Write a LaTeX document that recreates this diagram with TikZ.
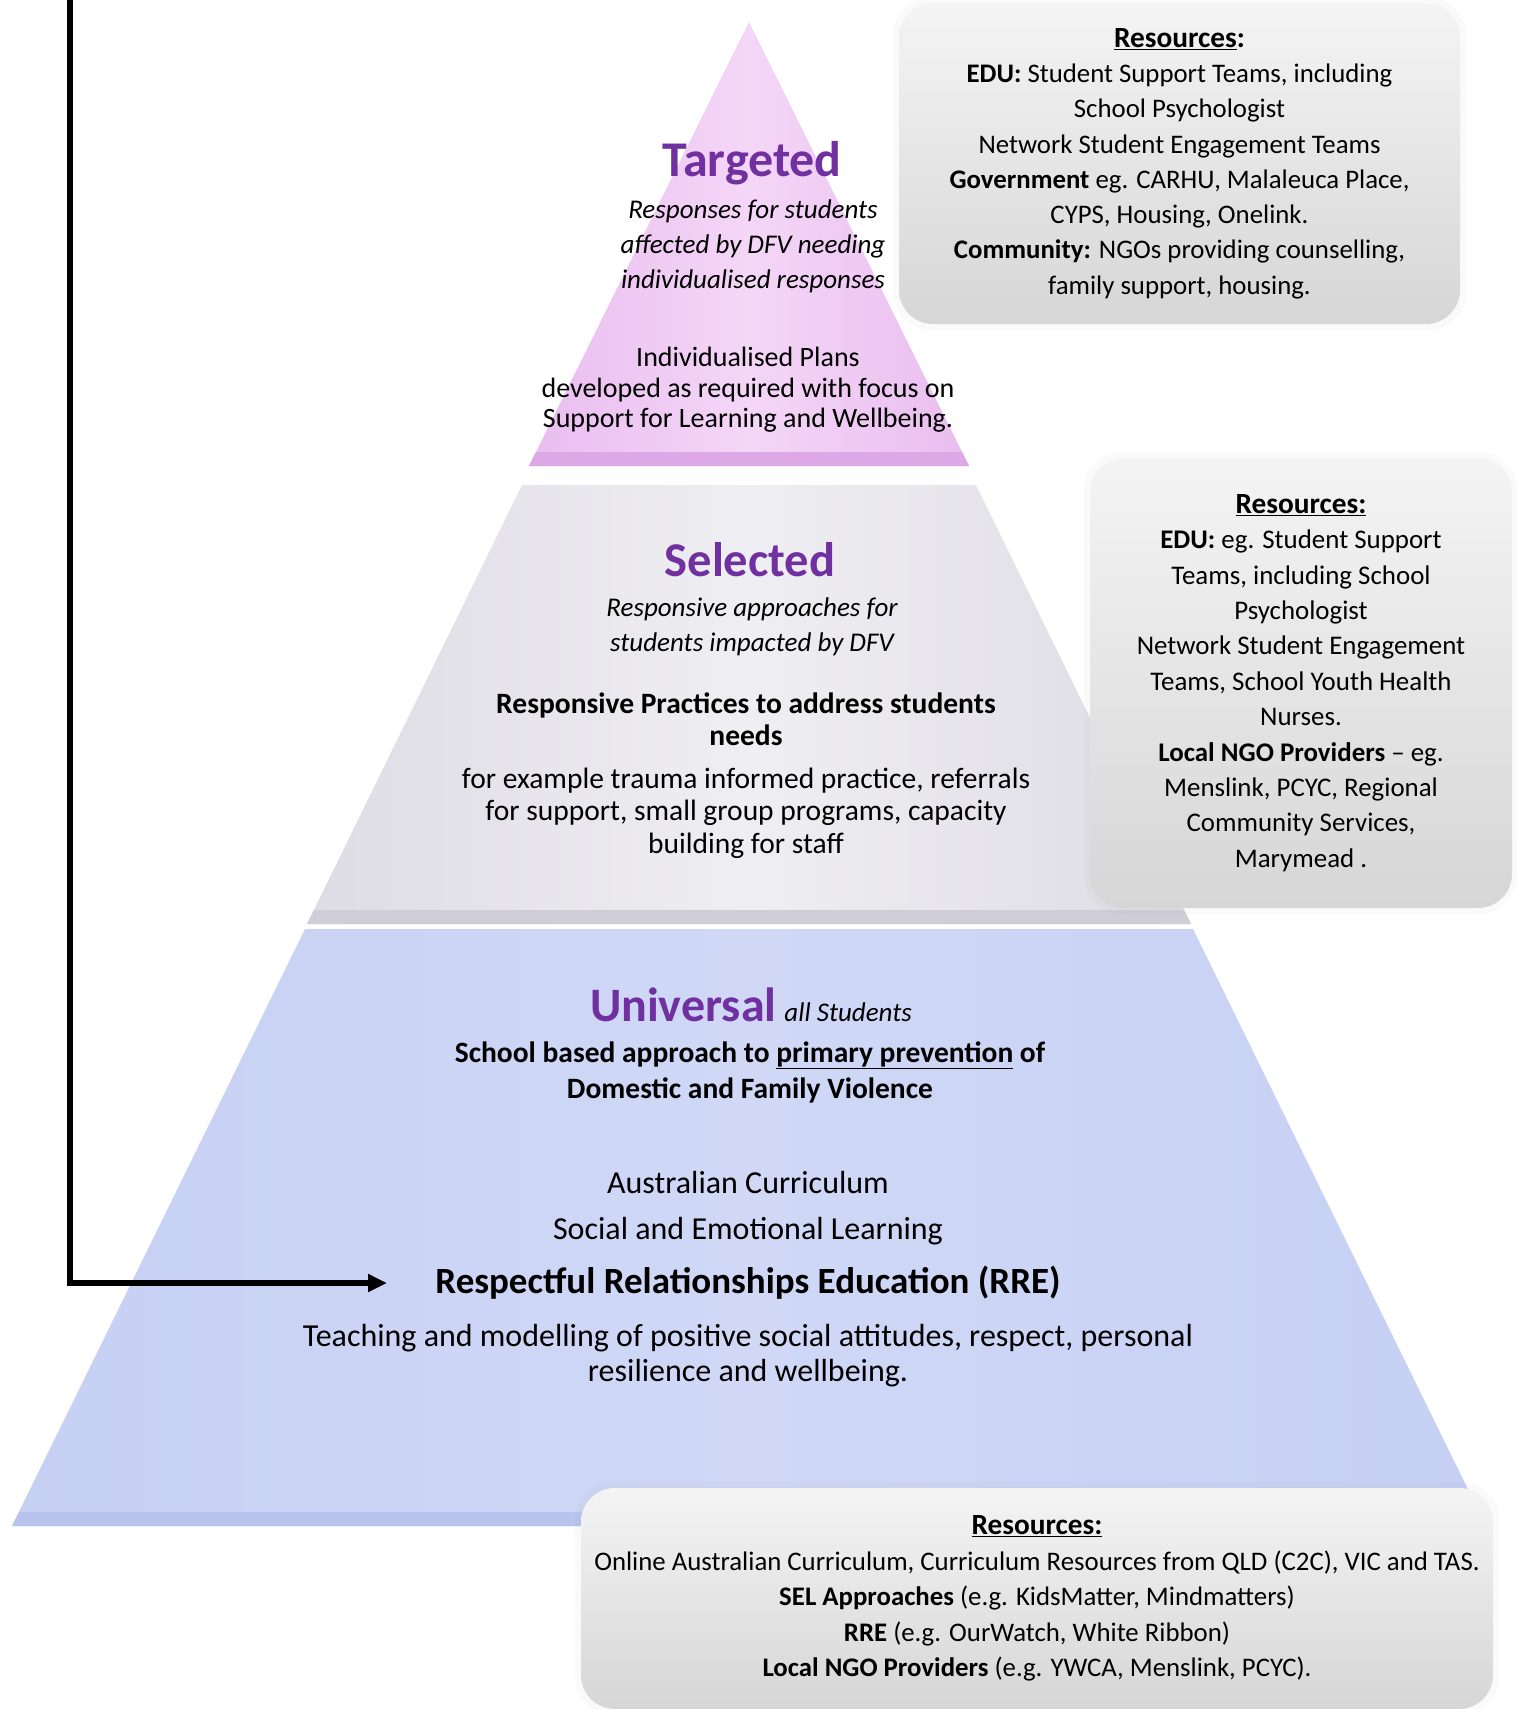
\documentclass[tikz,border=0pt]{standalone}
\usepackage{fontspec}
\setmainfont{Carlito}
\usetikzlibrary{arrows.meta}
\definecolor{tpurple}{HTML}{7030A0}
\definecolor{pinkA}{HTML}{E9BDEF}
\definecolor{pinkB}{HTML}{F4D6F7}
\definecolor{pinkD}{HTML}{DDA8E6}
\definecolor{grayA}{HTML}{DEDCE4}
\definecolor{grayB}{HTML}{EFEEF2}
\definecolor{grayD}{HTML}{CFCDD6}
\definecolor{blueA}{HTML}{C6D0F3}
\definecolor{blueB}{HTML}{D0D8F6}
\definecolor{blueD}{HTML}{B9C4EE}
\definecolor{boxT}{HTML}{F4F4F4}
\definecolor{boxB}{HTML}{D6D6D6}
\newcommand{\reshead}{\fontsize{29.3}{35.4}\selectfont}
\tikzset{
  ttl/.style={text=tpurple, inner sep=0pt},
  txt/.style={align=center, inner sep=0pt, text=black},
  resbox/.style={rounded corners=34pt, top color=boxT, bottom color=boxB, draw=none, align=center, inner sep=0pt},
  glow/.style={rounded corners=38pt, fill=gray, opacity=0.04},
  conn/.style={line width=6pt, -{Triangle[length=19pt,width=17pt]}}
}
\begin{document}
\begin{tikzpicture}[x=1pt,y=-1pt]
\useasboundingbox (0,0) rectangle (1517,1709);
\fill[white] (0,0) rectangle (1517,1709);

% ---------- pyramid ----------
\shade[left color=pinkA, right color=pinkA, middle color=pinkB] (749,22) -- (969,466) -- (529,466) -- cycle;
\fill[pinkD] (536,452) -- (962,452) -- (969,466) -- (529,466) -- cycle;

\shade[left color=grayA, right color=grayA, middle color=grayB] (522,485) -- (976,485) -- (1191,924) -- (307,924) -- cycle;
\fill[grayD] (314,910) -- (1184,910) -- (1191,924) -- (307,924) -- cycle;

\shade[left color=blueA, right color=blueA, middle color=blueB] (305,929) -- (1193,929) -- (1486,1526) -- (12,1526) -- cycle;
\fill[blueD] (19,1512) -- (1479,1512) -- (1486,1526) -- (12,1526) -- cycle;

% ---------- resource boxes ----------
\fill[glow] (893,-3) rectangle (1466,330);
\node[resbox, minimum width=561pt, minimum height=321pt,
      font=\fontsize{26.8}{35.3}\selectfont] (res1) at (1179.5,163.5) {%
  {\reshead\textbf{\underline{Resources}:}}\\
  \textbf{EDU:} Student Support Teams, including\\
  School Psychologist\\
  Network Student Engagement Teams\\
  \textbf{Government} eg. CARHU, Malaleuca Place,\\
  CYPS, Housing, Onelink.\\
  \textbf{Community:} NGOs providing counselling,\\
  family support, housing.};

\fill[glow] (1084,452) rectangle (1517,914);
\node[resbox, minimum width=422pt, minimum height=450pt,
      font=\fontsize{26.9}{35.4}\selectfont] (res2) at (1301,683) {%
  {\reshead\textbf{\underline{Resources:}}}\\
  \textbf{EDU:} eg. Student Support\\
  Teams, including School\\
  Psychologist\\
  Network Student Engagement\\
  Teams, School Youth Health\\
  Nurses.\\
  \textbf{Local NGO Providers} -- eg.\\
  Menslink, PCYC, Regional\\
  Community Services,\\
  Marymead .};

\fill[glow] (575,1482) rectangle (1499,1715);
\node[resbox, minimum width=912pt, minimum height=221pt,
      font=\fontsize{26.8}{35.5}\selectfont] (res3) at (1037,1598.5) {%
  {\reshead\textbf{\underline{Resources:}}}\\
  Online Australian Curriculum, Curriculum Resources from QLD (C2C), VIC and TAS.\\
  \textbf{SEL Approaches} (e.g. KidsMatter, Mindmatters)\\
  \textbf{RRE} (e.g. OurWatch, White Ribbon)\\
  \textbf{Local NGO Providers} (e.g. YWCA, Menslink, PCYC).};

% ---------- Targeted ----------
\node[ttl, font=\fontsize{50}{54}\selectfont\bfseries] (tgt) at (752,163) {Targeted};
\node[txt, font=\fontsize{27}{35}\selectfont\itshape] (tgtd) at (753,246)
  {Responses for students\\ affected by DFV needing\\ individualised responses};
\node[txt, font=\fontsize{28}{30.5}\selectfont] (tgtp) at (748,390)
  {Individualised Plans\\ developed as required with focus on\\ Support for Learning and Wellbeing.};

% ---------- Selected ----------
\node[ttl, font=\fontsize{48.5}{52}\selectfont\bfseries] (sel) at (750,560) {Selected};
\node[txt, font=\fontsize{27}{35}\selectfont\itshape] (seld) at (752,627)
  {Responsive approaches for\\ students impacted by DFV};
\node[txt, font=\fontsize{29.5}{32}\selectfont\bfseries] (selb) at (746,719)
  {Responsive Practices to address students\\ needs};
\node[txt, font=\fontsize{29.5}{32.5}\selectfont] (sele) at (746,813)
  {for example trauma informed practice, referrals\\ for support, small group programs, capacity\\ building for staff};

% ---------- Universal ----------
\node[txt, anchor=base] (uni) at (751,1021)
  {{\fontsize{48}{52}\selectfont\bfseries\color{tpurple}Universal}\hspace{8pt}{\fontsize{27}{30}\selectfont\itshape all Students}};
\node[txt, font=\fontsize{29.5}{36}\selectfont\bfseries] (unib) at (750,1072)
  {School based approach to \underline{primary prevention} of\\ Domestic and Family Violence};
\node[txt, font=\fontsize{32}{36}\selectfont] (ac) at (748,1182) {Australian Curriculum};
\node[txt, font=\fontsize{32}{36}\selectfont] (sel2) at (748,1231) {Social and Emotional Learning};
\node[txt, font=\fontsize{37}{42}\selectfont\bfseries] (rre) at (748,1283) {Respectful Relationships Education (RRE)};
\node[txt, font=\fontsize{32}{35}\selectfont] (teach) at (748,1356)
  {Teaching and modelling of positive social attitudes, respect, personal\\ resilience and wellbeing.};

% ---------- connector ----------
\coordinate (lineTop) at (70,-5);
\coordinate (rreTip) at (387,1283);
\draw[conn] (lineTop) |- (rreTip);
\end{tikzpicture}
\end{document}
